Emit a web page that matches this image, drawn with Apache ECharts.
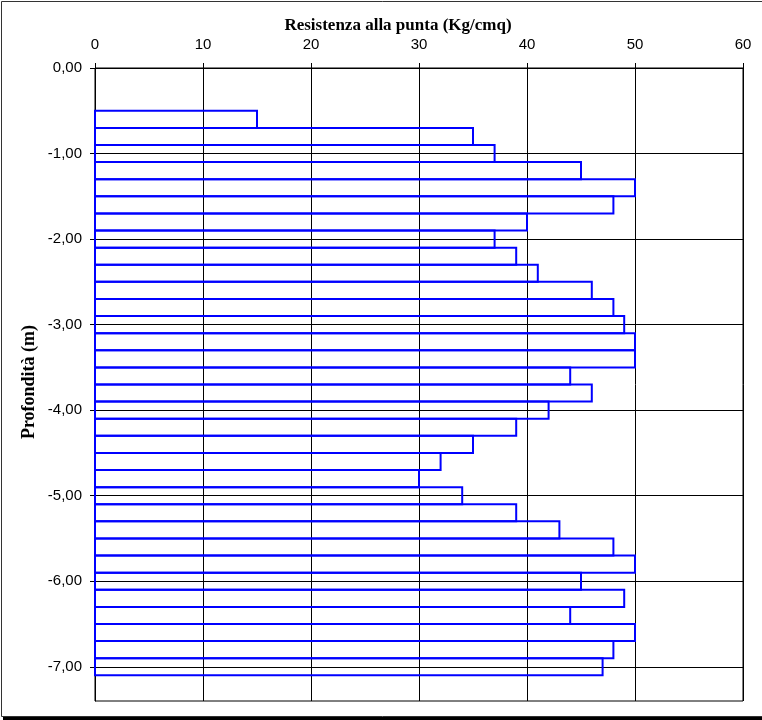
<!DOCTYPE html>
<html>
<head>
<meta charset="utf-8">
<script src="https://cdn.jsdelivr.net/npm/echarts@6/dist/echarts.min.js"></script>
<style>
html,body{margin:0;padding:0;background:#fff;}
#chart{width:762px;height:720px;}
</style>
</head>
<body>
<div id="chart"></div>
<script>
// Depth (m) of each reading, negative downwards
const depths = [-0.6,-0.8,-1.0,-1.2,-1.4,-1.6,-1.8,-2.0,-2.2,-2.4,-2.6,-2.8,-3.0,-3.2,-3.4,-3.6,-3.8,-4.0,-4.2,-4.4,-4.6,-4.8,-5.0,-5.2,-5.4,-5.6,-5.8,-6.0,-6.2,-6.4,-6.6,-6.8,-7.0];
// Tip resistance (Kg/cmq)
const resistance = [15,35,37,45,50,48,40,37,39,41,46,48,49,50,50,44,46,42,39,35,32,30,34,39,43,48,50,45,49,44,50,48,47];
// Layer thickness per reading (m)
const step = [0.2];
// Axis tick values
const xTicks = [0,10,20,30,40,50,60];
const yTicks = [0,-1,-2,-3,-4,-5,-6,-7];
const yMin = [-7.4];
const xTitle = 'Resistenza alla punta (Kg/cmq)';
const yTitle = 'Profondità (m)';

const data = depths.map((d, i) => [resistance[i], d]);

const chart = echarts.init(document.getElementById('chart'), null, {renderer: 'canvas'});
const sans = '"Liberation Sans", Arial, sans-serif';
const serif = '"Liberation Serif", "Times New Roman", serif';

chart.setOption({
  animation: false,
  backgroundColor: '#fff',
  grid: {left: 95, right: 19, top: 68, bottom: 19, show: true, borderColor: '#000', borderWidth: 1, containLabel: false},
  xAxis: {
    type: 'value', position: 'top', min: xTicks[0], max: xTicks[xTicks.length - 1], interval: 10,
    axisLine: {show: true, lineStyle: {color: '#000', width: 1}},
    axisTick: {show: true, inside: false, length: 5, lineStyle: {color: '#000'}},
    axisLabel: {color: '#000', fontFamily: sans, fontSize: 15, margin: 16},
    splitLine: {show: true, lineStyle: {color: '#000', width: 1}}
  },
  yAxis: {
    type: 'value', min: yMin[0], max: 0,
    axisLine: {show: true, onZero: false, lineStyle: {color: '#000', width: 1}},
    axisTick: {show: true, inside: false, length: 5, lineStyle: {color: '#000'}, customValues: yTicks},
    axisLabel: {color: '#000', fontFamily: sans, fontSize: 15, margin: 13, customValues: yTicks,
      formatter: v => (Math.abs(v) < 1e-9 ? 0 : v).toFixed(2).replace('.', ',')},
    splitLine: {show: true, lineStyle: {color: '#000', width: 1}}
  },
  graphic: [
    {type: 'rect', shape: {x: 1.5, y: 1.5, width: 770, height: 715}, style: {fill: 'none', stroke: '#333', lineWidth: 1}, silent: true, z: 100},
    {type: 'rect', shape: {x: 3, y: 717, width: 770, height: 4}, style: {fill: '#000'}, silent: true, z: 100},
    {type: 'text', x: 398, y: 26, style: {text: xTitle, font: 'bold 17px ' + serif, fill: '#000', textAlign: 'center', textVerticalAlign: 'middle'}, z: 100},
    {type: 'text', x: 29, y: 382, rotation: Math.PI / 2, style: {text: yTitle, font: 'bold 18px ' + serif, fill: '#000', textAlign: 'center', textVerticalAlign: 'middle'}, z: 100}
  ],
  series: [{
    type: 'custom',
    data: data,
    encode: {x: 0, y: 1},
    clip: false,
    renderItem: function (params, api) {
      const v = api.value(0), d = api.value(1);
      const p0 = api.coord([0, d]);
      const p1 = api.coord([v, d]);
      const h = api.size([0, step[0]])[1];
      return {
        type: 'rect',
        shape: {x: p0[0], y: p0[1] - h / 2, width: p1[0] - p0[0], height: h},
        style: {fill: 'none', stroke: '#0000FF', lineWidth: 2}
      };
    }
  }]
});
</script>
</body>
</html>
